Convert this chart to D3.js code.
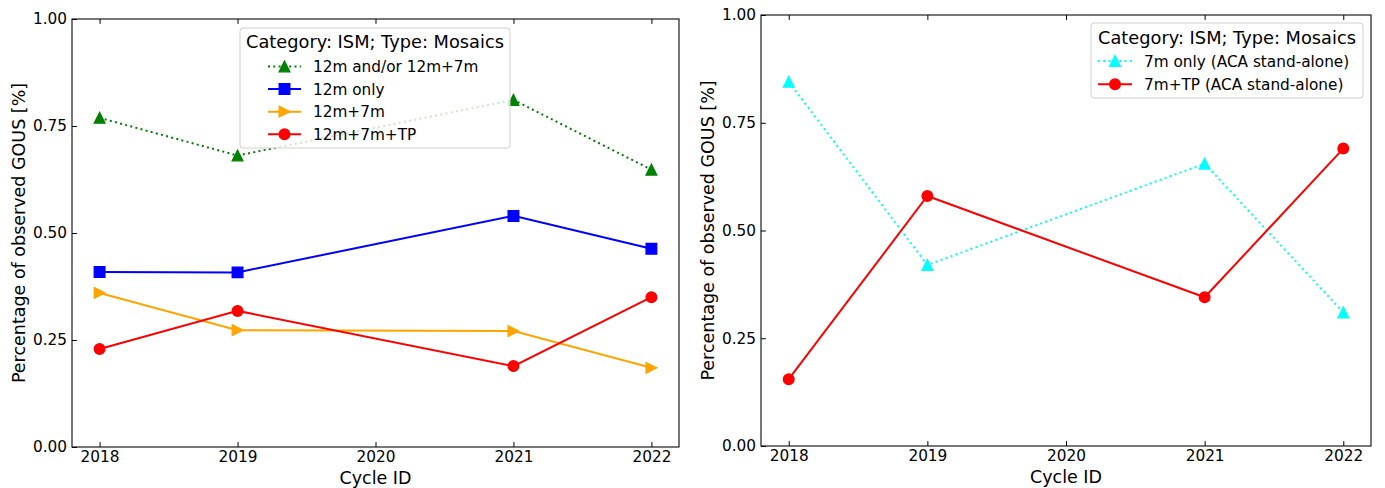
<!DOCTYPE html>
<html>
<head>
<meta charset="utf-8">
<script src="https://cdn.jsdelivr.net/npm/d3@7"></script>
<style>
  html, body { margin: 0; padding: 0; background: #fff; }
  svg { display: block; font-family: "DejaVu Sans", sans-serif; }
</style>
</head>
<body>
<svg id="chart" width="1385" height="488"></svg>
<script>
// Cycles with observations and axis ticks
const cycles = [2018, 2019, 2021, 2022];
const xTickValues = [2018, 2019, 2020, 2021, 2022];
const yTickValues = [0, 0.25, 0.5, 0.75, 1.0];

// 12m-array mosaics (fraction of observed GOUS)
const any12m = [0.769, 0.681, 0.811, 0.648];
const only12m = [0.409, 0.408, 0.540, 0.463];
const with7m = [0.360, 0.273, 0.271, 0.185];
const with7mTP = [0.229, 0.318, 0.189, 0.350];

// ACA stand-alone mosaics
const aca7mOnly = [0.845, 0.420, 0.655, 0.310];
const aca7mTP = [0.155, 0.580, 0.345, 0.690];

const legendTitle = "Category: ISM; Type: Mosaics";
const xLabel = "Cycle ID";
const yLabel = "Percentage of observed GOUS [%]";

const svg = d3.select("#chart");
const MS = 5.33; // half marker size in px

const markerPath = {
  "^": `M0,${-MS}L${-MS},${MS}L${MS},${MS}Z`,
  ">": `M${MS},0L${-MS},${-MS}L${-MS},${MS}Z`,
  "s": `M${-MS},${-MS}H${MS}V${MS}H${-MS}Z`,
  "o": d3.symbol(d3.symbolCircle, Math.PI * MS * MS)()
};

const leftSeries = [
  { name: "12m and/or 12m+7m", values: any12m, color: "#008000", marker: "^", dash: "2,3.3" },
  { name: "12m only", values: only12m, color: "#0000ff", marker: "s", dash: null },
  { name: "12m+7m", values: with7m, color: "#ffa500", marker: ">", dash: null },
  { name: "12m+7m+TP", values: with7mTP, color: "#ff0000", marker: "o", dash: null }
];
const rightSeries = [
  { name: "7m only (ACA stand-alone)", values: aca7mOnly, color: "#00ffff", marker: "^", dash: "2,3.3" },
  { name: "7m+TP (ACA stand-alone)", values: aca7mTP, color: "#ff0000", marker: "o", dash: null }
];

function drawPanel(box, series, legend) {
  const x = d3.scaleLinear().domain([2017.8, 2022.2]).range([box.left, box.right]);
  const y = d3.scaleLinear().domain([0, 1]).range([box.bottom, box.top]);
  const g = svg.append("g");

  // axes with inward ticks
  const bottomAxis = d3.axisBottom(x).tickValues(xTickValues).tickFormat(d3.format("d"))
    .tickSizeInner(-4.9).tickSizeOuter(0).tickPadding(4.5);
  const topAxis = d3.axisTop(x).tickValues(xTickValues).tickFormat("")
    .tickSizeInner(-4.9).tickSizeOuter(0);
  const leftAxis = d3.axisLeft(y).tickValues(yTickValues).tickFormat(d3.format(".2f"))
    .tickSizeInner(-4.9).tickSizeOuter(0).tickPadding(5);

  const gb = g.append("g").attr("transform", `translate(0,${box.bottom})`).call(bottomAxis);
  const gt = g.append("g").attr("transform", `translate(0,${box.top})`).call(topAxis);
  const gl = g.append("g").attr("transform", `translate(${box.left},0)`).call(leftAxis);
  [gb, gt, gl].forEach(a => {
    a.select(".domain").remove();
    a.selectAll(".tick line").attr("stroke", "#000").attr("stroke-width", 1);
    a.selectAll(".tick text").attr("fill", "#000").attr("font-size", 15.3)
      .attr("font-family", "DejaVu Sans");
  });

  // frame
  g.append("rect")
    .attr("x", box.left).attr("y", box.top)
    .attr("width", box.right - box.left).attr("height", box.bottom - box.top)
    .attr("fill", "none").attr("stroke", "#000").attr("stroke-width", 1.07);

  // series
  const line = d3.line().x((d, i) => x(cycles[i])).y(d => y(d));
  series.forEach(s => {
    g.append("path").datum(s.values)
      .attr("d", line).attr("fill", "none")
      .attr("stroke", s.color).attr("stroke-width", 2)
      .attr("stroke-dasharray", s.dash);
    g.selectAll(null).data(s.values).enter().append("path")
      .attr("d", markerPath[s.marker])
      .attr("transform", (d, i) => `translate(${x(cycles[i])},${y(d)})`)
      .attr("fill", s.color).attr("stroke", s.color).attr("stroke-width", 1.33);
  });

  // axis labels
  g.append("text")
    .attr("x", (box.left + box.right) / 2).attr("y", box.bottom + 37)
    .attr("text-anchor", "middle").attr("font-size", 17.5).text(xLabel);
  g.append("text")
    .attr("transform", `translate(${box.left - 47},${(box.top + box.bottom) / 2}) rotate(-90)`)
    .attr("text-anchor", "middle").attr("font-size", 17.5).text(yLabel);

  // legend
  const lg = g.append("g");
  lg.append("rect")
    .attr("x", legend.x0).attr("y", legend.y0)
    .attr("width", legend.x1 - legend.x0).attr("height", legend.y1 - legend.y0)
    .attr("rx", 3).attr("fill", "#fff").attr("fill-opacity", 0.8)
    .attr("stroke", "#d0d0d0").attr("stroke-width", 1);
  lg.append("text")
    .attr("x", (legend.x0 + legend.x1) / 2).attr("y", legend.titleY)
    .attr("text-anchor", "middle").attr("font-size", 17.8).text(legendTitle);
  series.forEach((s, i) => {
    const cy = legend.firstY + i * legend.step;
    lg.append("line")
      .attr("x1", legend.hx0).attr("x2", legend.hx1).attr("y1", cy).attr("y2", cy)
      .attr("stroke", s.color).attr("stroke-width", 2).attr("stroke-dasharray", s.dash);
    lg.append("path").attr("d", markerPath[s.marker])
      .attr("transform", `translate(${(legend.hx0 + legend.hx1) / 2},${cy})`)
      .attr("fill", s.color).attr("stroke", s.color).attr("stroke-width", 1.33);
    lg.append("text")
      .attr("x", legend.tx).attr("y", cy + 5.5)
      .attr("font-size", 15.3).text(s.name);
  });
}

drawPanel({ left: 72, right: 679, top: 19, bottom: 447 }, leftSeries,
  { x0: 240, x1: 510, y0: 28, y1: 148, titleY: 48, firstY: 66.5, step: 22.6, hx0: 268, hx1: 301, tx: 313 });
drawPanel({ left: 761, right: 1371, top: 15, bottom: 446 }, rightSeries,
  { x0: 1091, x1: 1363, y0: 23, y1: 98, titleY: 43.5, firstY: 61, step: 23.3, hx0: 1098, hx1: 1132, tx: 1144 });
</script>
</body>
</html>
